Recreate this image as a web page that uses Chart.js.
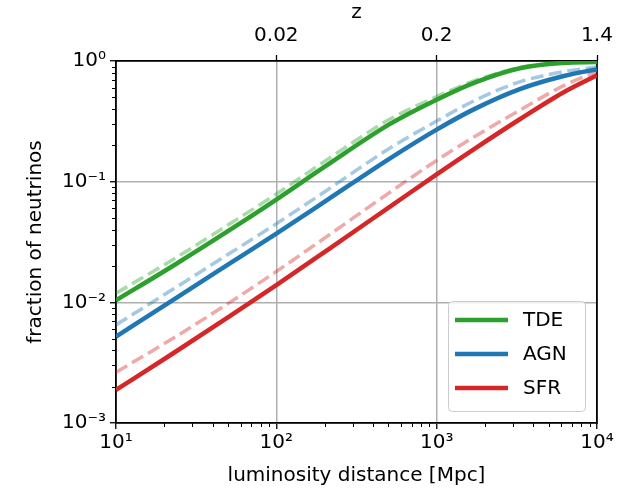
<!DOCTYPE html>
<html lang="en">
<head>
<meta charset="UTF-8" />
<title>Fraction of neutrinos</title>
<script src="https://cdn.jsdelivr.net/npm/chart.js"></script>
<style>
  body { margin: 0; background: #fff; }
  #wrap { width: 640px; height: 495px; position: relative; }
</style>
</head>
<body>
<div id="wrap"><canvas id="chart"></canvas></div>
<script>
  // luminosity distance [Mpc] where the curves were read
  const distances = [10, 23, 51, 100, 207, 512, 1000, 1740, 3300, 6200, 10000];

  const tdeSolid  = [0.0104, 0.0203, 0.0396, 0.0711, 0.137, 0.301, 0.478, 0.665, 0.871, 0.964, 0.982];
  const tdeDashed = [0.0119, 0.0229, 0.0445, 0.0789, 0.152, 0.330, 0.506, 0.689, 0.883, 0.968, 0.984];
  const agnSolid  = [0.0052, 0.0106, 0.0209, 0.0371, 0.0703, 0.156, 0.270, 0.403, 0.585, 0.751, 0.855];
  const agnDashed = [0.0065, 0.0130, 0.0254, 0.0448, 0.0849, 0.190, 0.318, 0.473, 0.671, 0.815, 0.891];
  const sfrSolid  = [0.00188, 0.00382, 0.00764, 0.0139, 0.0270, 0.0621, 0.115, 0.189, 0.329, 0.551, 0.762];
  const sfrDashed = [0.00263, 0.00509, 0.00995, 0.0180, 0.0352, 0.0818, 0.150, 0.238, 0.391, 0.625, 0.817];

  // redshift axis on top
  const zTickDistances = [100, 1000, 10000];
  const zTickLabels = ['0.02', '0.2', '1.4'];

  const FONT = 'DejaVu Sans';
  const green = '#2ca02c', blue = '#1f77b4', red = '#d62728';

  const SUP = { '-': '⁻', '0': '⁰', '1': '¹', '2': '²', '3': '³', '4': '⁴' };
  function isMajor(v) {
    const e = Math.log10(v);
    return Math.abs(e - Math.round(e)) < 1e-6;
  }
  function powLabel(v) {
    const e = String(Math.round(Math.log10(v)));
    return '10' + e.split('').map(c => SUP[c]).join('');
  }
  function pts(arr) {
    return distances.map((d, i) => ({ x: d, y: arr[i] }));
  }
  function fade(hex, a) {
    const n = parseInt(hex.slice(1), 16);
    return `rgba(${n >> 16}, ${(n >> 8) & 255}, ${n & 255}, ${a})`;
  }
  // 2..9 x 10^k between min and max of a log scale
  function minorValues(scale) {
    const out = [];
    for (let k = Math.floor(Math.log10(scale.min)); k < Math.log10(scale.max); k++) {
      for (let m = 2; m <= 9; m++) {
        const v = m * Math.pow(10, k);
        if (v > scale.min && v < scale.max) out.push(v);
      }
    }
    return out;
  }

  const solid = (label, data, color) => ({
    label, data: pts(data), borderColor: color, backgroundColor: color,
    borderWidth: 4.5, pointRadius: 0, cubicInterpolationMode: 'monotone',
    xAxisID: 'x', yAxisID: 'y'
  });
  const dashed = (data, color) => ({
    label: '', data: pts(data), borderColor: fade(color, 0.4),
    borderWidth: 3.5, borderDash: [13, 5.6], pointRadius: 0,
    cubicInterpolationMode: 'monotone', xAxisID: 'x', yAxisID: 'y'
  });

  // short minor tick marks, like matplotlib
  const minorTicks = {
    id: 'minorTicks',
    afterDraw(chart) {
      const ctx = chart.ctx;
      const xs = chart.scales.x, ys = chart.scales.y;
      const area = chart.chartArea;
      ctx.save();
      ctx.strokeStyle = '#000';
      ctx.lineWidth = 1;
      ctx.beginPath();
      minorValues(xs).forEach(v => {
        const px = Math.round(xs.getPixelForValue(v)) + 0.5;
        ctx.moveTo(px, area.bottom);
        ctx.lineTo(px, area.bottom + 4);
      });
      minorValues(ys).forEach(v => {
        const py = Math.round(ys.getPixelForValue(v)) + 0.5;
        ctx.moveTo(area.left, py);
        ctx.lineTo(area.left - 4, py);
      });
      ctx.stroke();
      ctx.restore();
    }
  };

  const boxLegend = {
    id: 'boxLegend',
    afterDraw(chart) {
      const ctx = chart.ctx;
      const area = chart.chartArea;
      const items = chart.data.datasets.filter(d => d.label);
      const w = 137, h = 110;
      const left = area.right - 12 - w, top = area.bottom - 12 - h;
      ctx.save();
      ctx.beginPath();
      ctx.roundRect(left + 0.5, top + 0.5, w, h, 4);
      ctx.fillStyle = 'rgba(255,255,255,0.8)';
      ctx.fill();
      ctx.strokeStyle = '#cccccc';
      ctx.lineWidth = 1;
      ctx.stroke();
      ctx.font = `20px "${FONT}"`;
      ctx.textBaseline = 'middle';
      ctx.fillStyle = '#000';
      items.forEach((d, i) => {
        const y = top + 19 + i * 34;
        ctx.strokeStyle = d.borderColor;
        ctx.lineWidth = d.borderWidth;
        ctx.beginPath();
        ctx.moveTo(left + 7, y);
        ctx.lineTo(left + 60, y);
        ctx.stroke();
        ctx.fillText(d.label, left + 75, y + 1);
      });
      ctx.restore();
    }
  };

  const tickFont = { family: FONT, size: 20 };
  const majorOnly = (on, off) => c => (c.tick && isMajor(c.tick.value)) ? on : off;

  new Chart(document.getElementById('chart'), {
    type: 'line',
    data: {
      datasets: [
        solid('TDE', tdeSolid, green),
        solid('AGN', agnSolid, blue),
        solid('SFR', sfrSolid, red),
        dashed(tdeDashed, green),
        dashed(agnDashed, blue),
        dashed(sfrDashed, red)
      ]
    },
    options: {
      responsive: true,
      maintainAspectRatio: false,
      animation: false,
      devicePixelRatio: 1,
      layout: { padding: { right: 43 } },
      plugins: { legend: { display: false }, tooltip: { enabled: false } },
      scales: {
        x: {
          type: 'logarithmic', position: 'bottom', min: 10, max: 10000,
          ticks: {
            autoSkip: false, maxRotation: 0, padding: 2, color: '#000', font: tickFont,
            callback: v => isMajor(v) ? powLabel(v) : ''
          },
          grid: {
            color: majorOnly('#b0b0b0', 'rgba(0,0,0,0)'),
            lineWidth: 1.5,
            tickColor: majorOnly('#000', 'rgba(0,0,0,0)'),
            tickLength: 6, tickWidth: 1.3
          },
          border: { color: '#000', width: 1.8 },
          title: { display: true, text: 'luminosity distance [Mpc]', color: '#000', font: tickFont, padding: { top: 0, bottom: 7 } },
          afterFit: s => { s.height = 72; }
        },
        xTop: {
          type: 'logarithmic', position: 'top', min: 10, max: 10000,
          afterBuildTicks: s => { s.ticks = zTickDistances.map(v => ({ value: v })); },
          ticks: {
            autoSkip: false, maxRotation: 0, padding: 7, color: '#000', font: tickFont,
            callback: v => zTickLabels[zTickDistances.indexOf(v)]
          },
          grid: { drawOnChartArea: false, tickColor: '#000', tickLength: 6, tickWidth: 1.3 },
          border: { color: '#000', width: 1.8 },
          title: { display: true, text: 'z', color: '#000', font: tickFont, padding: { top: 1, bottom: 0 } },
          afterFit: s => { s.height = 61; }
        },
        y: {
          type: 'logarithmic', position: 'left', min: 0.001, max: 1,
          ticks: {
            autoSkip: false, padding: 4, color: '#000', font: tickFont,
            callback: v => isMajor(v) ? powLabel(v) : ''
          },
          grid: {
            color: majorOnly('#b0b0b0', 'rgba(0,0,0,0)'),
            lineWidth: 1.5,
            tickColor: majorOnly('#000', 'rgba(0,0,0,0)'),
            tickLength: 6, tickWidth: 1.3
          },
          border: { color: '#000', width: 1.8 },
          title: { display: true, text: 'fraction of neutrinos', color: '#000', font: tickFont, padding: { top: 24, bottom: 0 } },
          afterFit: s => { s.width = 116; }
        },
        yRight: {
          type: 'logarithmic', position: 'right', min: 0.001, max: 1,
          ticks: { display: false },
          grid: { drawOnChartArea: false, drawTicks: false },
          border: { color: '#000', width: 1.8 },
          afterFit: s => { s.width = 0; }
        }
      }
    },
    plugins: [minorTicks, boxLegend]
  });
</script>
</body>
</html>
